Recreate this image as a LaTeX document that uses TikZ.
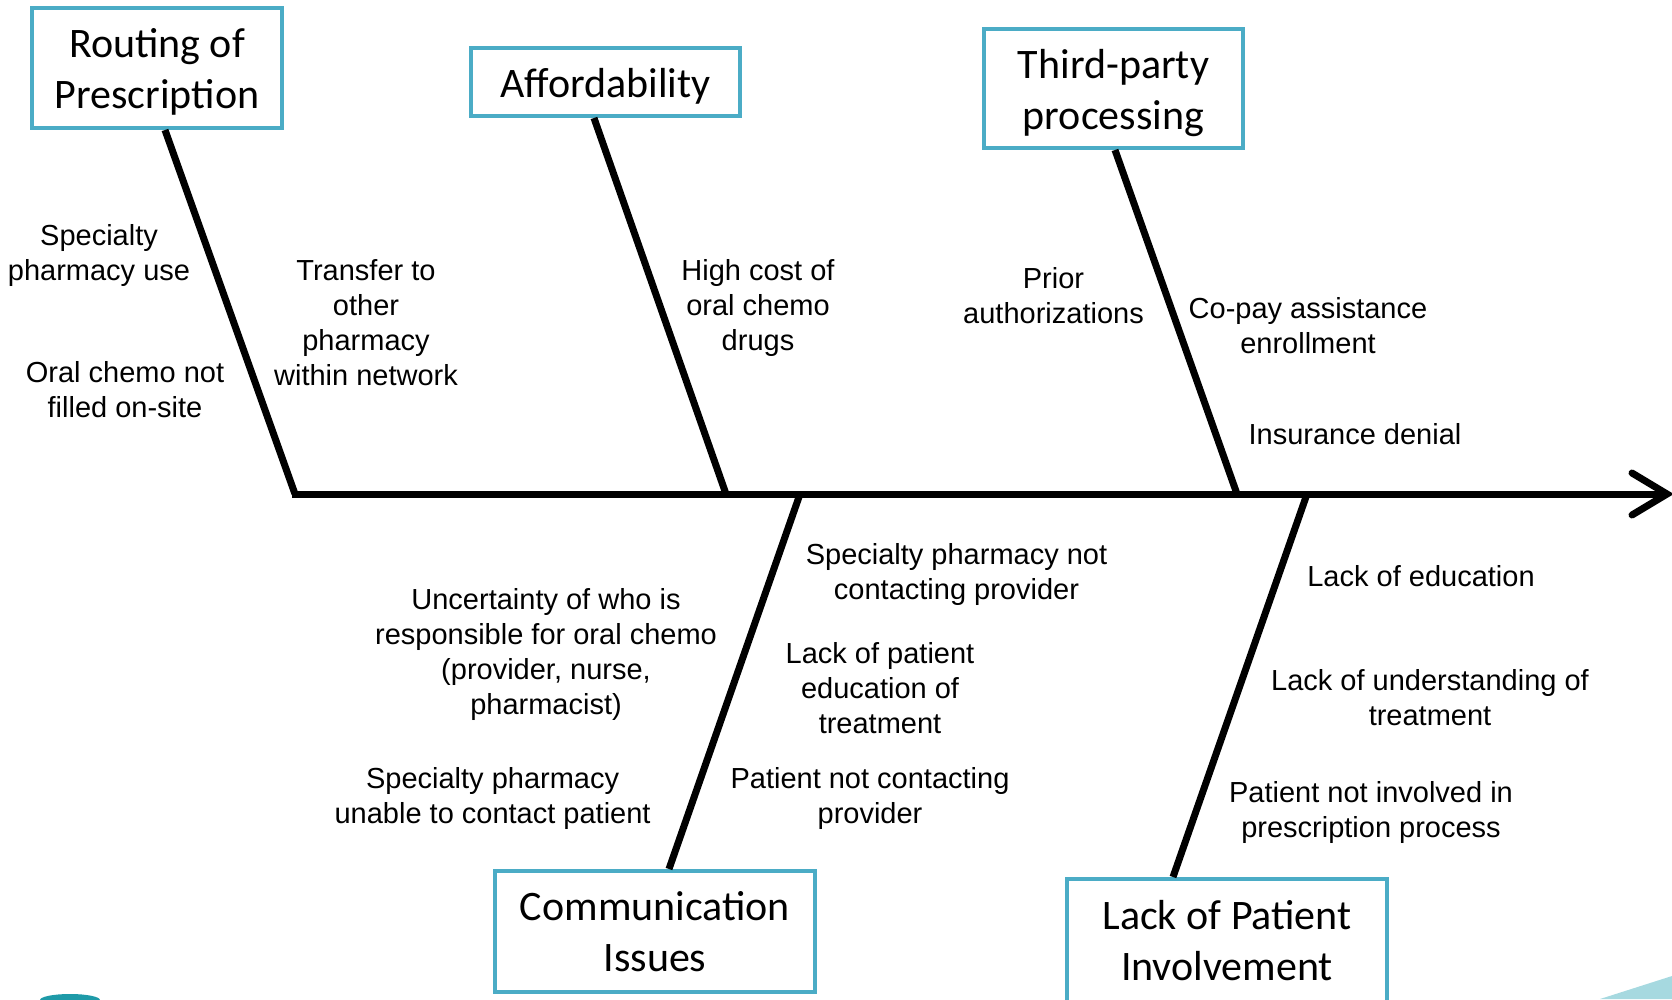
\documentclass[tikz,border=0pt]{standalone}
\usepackage{fontspec}
\setmainfont{Liberation Sans}
\newfontfamily\boxfont{Carlito}
\usetikzlibrary{calc}
\definecolor{boxc}{HTML}{4BACC6}
\definecolor{swooshA}{HTML}{1E9AA8}
\definecolor{swooshB}{HTML}{A6D9E0}
\newcommand{\lowtext}[1]{\raisebox{0pt}[\dimexpr\height+10pt\relax][\depth]{\begin{tabular}{@{}c@{}}#1\end{tabular}}}
\tikzset{
  catbox/.style={draw=boxc, line width=4pt, fill=white, align=center, inner sep=0pt,
    font=\boxfont\fontsize{42}{51}\selectfont},
  cause/.style={align=center, inner sep=0pt, font=\fontsize{29}{35}\selectfont},
  bone/.style={line width=7pt, black},
}
\begin{document}
\begin{tikzpicture}[x=1pt, y=-1pt]
\useasboundingbox (0,0) rectangle (1672,999);
% template decoration
\fill[swooshA] (70,1000) ellipse [x radius=30, y radius=6];
\fill[swooshB] (1600,999) -- (1672,976) -- (1672,999) -- cycle;

% category boxes
\node[catbox, minimum width=250, minimum height=120] (rout) at (157,68) {\lowtext{Routing of\\Prescription}};
\node[catbox, minimum width=269, minimum height=68] (aff) at (605.5,82) {\lowtext{Affordability}};
\node[catbox, minimum width=259, minimum height=119] (third) at (1113.5,88.5) {\lowtext{Third-party\\processing}};
\node[catbox, minimum width=320, minimum height=121] (comm) at (655,931.5) {Communication\\Issues};
\node[catbox, minimum width=320, minimum height=123] (lack) at (1227,940.5) {Lack of Patient\\Involvement};

% spine junctions
\coordinate (jR) at (295,494);
\coordinate (jA) at (726,494);
\coordinate (jC) at (800,494);
\coordinate (jT) at (1237,494);
\coordinate (jL) at (1307,494);
\coordinate (tip) at (1667,494);

% spine and arrow
\draw[bone] ($(jR)+(-3.5,0)$) -- (tip);
\draw[bone, line cap=round] ($(tip)+(-35,-21)$) -- (tip) -- ($(tip)+(-35,21)$);

% bones
\draw[bone] ($(rout.south)+(8,0)$) -- (jR);
\draw[bone] ($(aff.south)+(-11.5,0)$) -- (jA);
\draw[bone] ($(third.south)+(1.5,0)$) -- (jT);
\draw[bone] (jC) -- ($(comm.north)+(14,0)$);
\draw[bone] (jL) -- ($(lack.north)+(-54,0)$);

% causes
\node[cause] (c1) at (99,255) {Specialty\\pharmacy use};
\node[cause] (c2) at (125,390) {Oral chemo not\\filled on-site};
\node[cause] (c3) at (366,323) {Transfer to\\other\\pharmacy\\within network};
\node[cause] (c4) at (758,308) {High cost of\\oral chemo\\drugs};
\node[cause] (c5) at (1053.5,296) {Prior\\authorizations};
\node[cause] (c6) at (1308,326) {Co-pay assistance\\enrollment};
\node[cause] (c7) at (1355,434) {Insurance denial};
\node[cause] (c8) at (956.5,574) {Specialty pharmacy not\\contacting provider};
\node[cause] (c9) at (546,654) {Uncertainty of who is\\responsible for oral chemo\\(provider, nurse,\\pharmacist)};
\node[cause] (c10) at (880,688) {Lack of patient\\education of\\treatment};
\node[cause] (c11) at (492.6,798) {Specialty pharmacy\\unable to contact patient};
\node[cause] (c12) at (870,798) {Patient not contacting\\provider};
\node[cause] (c13) at (1421,576) {Lack of education};
\node[cause] (c14) at (1430,698) {Lack of understanding of\\treatment};
\node[cause] (c15) at (1371,812) {Patient not involved in\\prescription process};
\end{tikzpicture}
\end{document}
